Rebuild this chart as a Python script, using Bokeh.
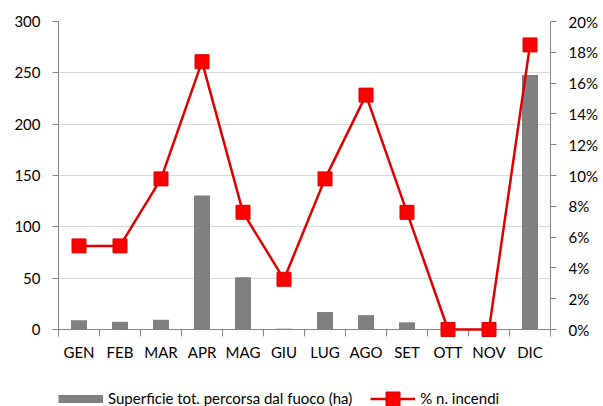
from bokeh.plotting import figure
from bokeh.models import (Range1d, LinearAxis, FixedTicker, ColumnDataSource, Span,
                          NumeralTickFormatter, Legend, LegendItem)
from bokeh.core.properties import value
from bokeh.embed import file_html
from bokeh.resources import INLINE

months = ["GEN", "FEB", "MAR", "APR", "MAG", "GIU", "LUG", "AGO", "SET", "OTT", "NOV", "DIC"]
area_ha = [9, 7.5, 9.5, 130.5, 51, 0.8, 17, 14, 7, 0, 0, 248]
pct_fires = [0.0543, 0.0543, 0.0978, 0.1739, 0.0761, 0.0326, 0.0978, 0.1522, 0.0761, 0.0, 0.0, 0.1848]
left_ticks = [0, 50, 100, 150, 200, 250, 300]
right_ticks = [0, 0.02, 0.04, 0.06, 0.08, 0.10, 0.12, 0.14, 0.16, 0.18, 0.20]
bar_label = "Superficie tot. percorsa dal fuoco (ha)"
line_label = "% n. incendi"

FONT = "Lato"
FS = "15px"
AXIS_C = "#868686"
GRID_C = "#d9d9d9"
BAR_C = "#808080"
LINE_C = "#e00000"

n = len(months)
slot = [i + 0.5 for i in range(n)]          # category centres on the index scale
bounds = [i for i in range(n + 1)]           # category boundaries

src = ColumnDataSource(dict(slot=slot, month=months, area=area_ha, pct=pct_fires))
bsrc = ColumnDataSource(dict(b=bounds))

# the plot frame reaches the bottom of the canvas (room for the category
# labels and the legend); the value axes only span 0..max
TOP_L, TOP_R = 300, 0.20
below_l = -75.0          # frame below zero, left scale units
below_r = -0.05          # same extent on the right scale
tick_l = -6.8            # short category tick marks under zero
tick_r = -0.00453

p = figure(width=603, height=406,
           x_range=Range1d(0, n),
           y_range=Range1d(below_l, TOP_L),
           output_backend="svg", toolbar_location=None,
           x_axis_location=None, y_axis_location="left",
           min_border_left=58, min_border_right=53,
           min_border_top=21, min_border_bottom=0)
p.outline_line_color = None
p.background_fill_color = "white"
p.border_fill_color = "white"
p.extra_y_ranges = {"pct": Range1d(below_r, TOP_R)}

# left axis
ya = p.yaxis[0]
ya.ticker = FixedTicker(ticks=left_ticks, minor_ticks=[])
ya.bounds = (tick_l, TOP_L)
ya.axis_line_color = AXIS_C
ya.major_tick_line_color = AXIS_C
ya.major_tick_out = 6
ya.major_tick_in = 0
ya.minor_tick_line_color = None
ya.major_label_standoff = 12
ya.major_label_text_font = FONT
ya.major_label_text_font_size = FS
ya.major_label_text_color = "black"

p.ygrid.ticker = FixedTicker(ticks=left_ticks)
p.ygrid.grid_line_color = GRID_C
p.ygrid.grid_line_width = 1
p.xgrid.visible = False

# right axis
ra = LinearAxis(y_range_name="pct",
                ticker=FixedTicker(ticks=right_ticks, minor_ticks=[]),
                formatter=NumeralTickFormatter(format="0%"))
ra.bounds = (tick_r, TOP_R)
ra.axis_line_color = AXIS_C
ra.major_tick_line_color = AXIS_C
ra.major_tick_out = 6
ra.major_tick_in = 0
ra.minor_tick_line_color = None
ra.major_label_standoff = 12
ra.major_label_text_font = FONT
ra.major_label_text_font_size = FS
ra.major_label_text_color = "black"
p.add_layout(ra, "right")

# category axis: line at zero, tick marks at category boundaries, labels centred
p.add_layout(Span(location=0, dimension="width", line_color=AXIS_C, line_width=1, level="underlay"))
p.segment(x0="b", y0=tick_l, x1="b", y1=0, source=bsrc, line_color=AXIS_C, line_width=1)
p.text(x="slot", y=0, text="month", source=src, y_offset=22,
       text_align="center", text_baseline="middle",
       text_font=value(FONT), text_font_size=value(FS), text_color="black")

bars = p.vbar(x="slot", top="area", source=src, width=0.39, fill_color=BAR_C, line_color=None)
ln = p.line(x="slot", y="pct", source=src, y_range_name="pct", line_color=LINE_C, line_width=2.5)
mk = p.scatter(x="slot", y="pct", source=src, y_range_name="pct", marker="square", size=14,
               fill_color="#ff0000", line_color=LINE_C, line_width=1)
# legend swatch for the bar series (thick flat stroke; a single NaN point, so nothing is drawn in the plot)
bar_key = p.line(x=[float("nan")], y=[float("nan")], line_color=BAR_C, line_width=8)

leg = Legend(items=[LegendItem(label=bar_label, renderers=[bar_key]),
                    LegendItem(label=line_label, renderers=[ln, mk])],
             location=(0, -9.5), orientation="horizontal",
             glyph_width=45, glyph_height=35, label_standoff=5, spacing=18,
             padding=0, margin=0, border_line_color=None, background_fill_alpha=0,
             label_text_font=FONT, label_text_font_size=FS, label_text_color="black")
p.add_layout(leg, "center")

open("out.html", "w").write(file_html(p, INLINE))
